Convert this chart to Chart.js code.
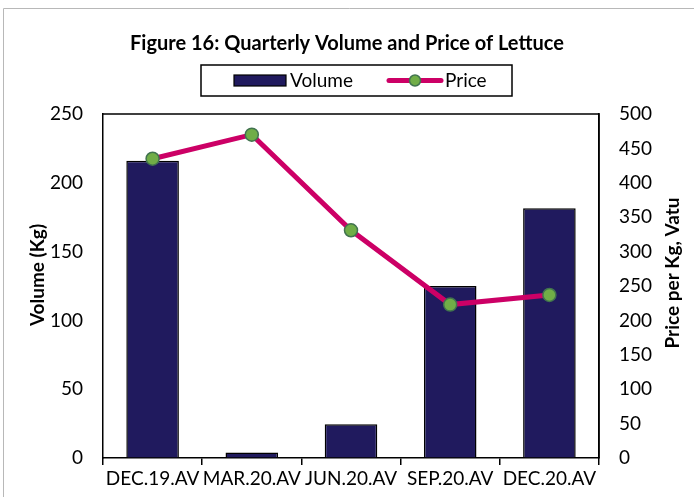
<!DOCTYPE html>
<html><head><meta charset="utf-8">
<script src="https://cdn.jsdelivr.net/npm/chart.js@4"></script>
<style>html,body{margin:0;padding:0;background:#fff}#wrap{width:694px;height:497px;position:relative}</style>
</head><body><div id="wrap"><canvas id="c" width="694" height="497"></canvas></div>
<script>
const categories = ["DEC.19.AV","MAR.20.AV","JUN.20.AV","SEP.20.AV","DEC.20.AV"];
const volumeValues = [216, 4, 24.5, 125, 181.5];
const priceValues = [435, 470, 331, 223, 237];
const volumeTicks = [0,50,100,150,200,250];
const priceTicks = [0,50,100,150,200,250,300,350,400,450,500];
const leftTitle = 'Volume (Kg)';
const rightTitle = 'Price per Kg, Vatu';

const FONT = "Lato, 'Open Sans', sans-serif";
const PLOT = {left:103, right:599, top:114, bottom:458};

const framePlugin = {
  id:'frame',
  beforeDraw(chart){
    const ctx = chart.ctx;
    ctx.save();
    ctx.strokeStyle = '#b8b8b8';
    ctx.lineWidth = 1;
    ctx.beginPath();
    ctx.moveTo(3.5, 500); ctx.lineTo(3.5, 8.5); ctx.lineTo(700, 8.5);
    ctx.stroke();
    ctx.restore();
  },
  afterDatasetsDraw(chart){
    const ctx = chart.ctx, a = chart.chartArea;
    ctx.save();
    ctx.strokeStyle = '#000';
    ctx.lineWidth = 1.5;
    ctx.beginPath();
    ctx.moveTo(a.left, a.top); ctx.lineTo(a.right, a.top); ctx.lineTo(a.right, a.bottom);
    ctx.stroke();
    ctx.restore();
  },
  afterDraw(chart){
    const ctx = chart.ctx;
    const ds = chart.data.datasets;
    const bar = ds.find(d => d.type === 'bar');
    const line = ds.find(d => d.type === 'line');
    ctx.save();
    // legend box
    ctx.strokeStyle = '#000'; ctx.lineWidth = 1.5;
    ctx.strokeRect(201, 65, 311, 31);
    const cy = 80.5;
    ctx.fillStyle = bar.backgroundColor; ctx.fillRect(234, 75, 52, 11);
    ctx.strokeStyle = '#000'; ctx.lineWidth = 1.2; ctx.strokeRect(234, 75, 52, 11);
    ctx.fillStyle = '#000'; ctx.font = '19px ' + FONT; ctx.textBaseline = 'middle'; ctx.textAlign='left';
    ctx.fillText(bar.label, 290, cy);
    ctx.strokeStyle = line.borderColor; ctx.lineWidth = 5; ctx.lineCap='round';
    ctx.beginPath(); ctx.moveTo(389, cy); ctx.lineTo(441, cy); ctx.stroke();
    ctx.fillStyle = line.pointBackgroundColor; ctx.strokeStyle = line.pointBorderColor; ctx.lineWidth = 1.5;
    ctx.beginPath(); ctx.arc(415, cy, 5.5, 0, Math.PI*2); ctx.fill(); ctx.stroke();
    ctx.fillStyle = '#000';
    ctx.fillText(line.label, 445, cy);
    // axis titles (both read bottom to top)
    ctx.font = 'bold 19px ' + FONT; ctx.textAlign = 'center'; ctx.textBaseline = 'middle';
    ctx.save(); ctx.translate(38, 275); ctx.rotate(-Math.PI/2); ctx.fillText(leftTitle, 0, 0); ctx.restore();
    ctx.save(); ctx.translate(673, 273); ctx.rotate(-Math.PI/2); ctx.fillText(rightTitle, 0, 0); ctx.restore();
    ctx.restore();
  }
};

new Chart(document.getElementById('c'), {
  data: {
    labels: categories,
    datasets: [
      {type:'line', label:'Price', data: priceValues, yAxisID:'y2', order:0,
       borderColor:'#CC0066', borderWidth:5, pointRadius:6.5, pointHoverRadius:6.5,
       pointBackgroundColor:'#70AD47', pointBorderColor:'#41734F', pointBorderWidth:1.5, tension:0},
      {type:'bar', label:'Volume', data: volumeValues, yAxisID:'y', order:1,
       backgroundColor:'#201A5E', borderColor:'#000', borderWidth:1.5,
       categoryPercentage:1, barPercentage:0.53}
    ]
  },
  options: {
    responsive:false, animation:false,
    layout:{padding:{top:0, right:0, bottom:0, left:0}},
    plugins:{
      legend:{display:false}, tooltip:{enabled:false},
      title:{display:true, text:'Figure 16: Quarterly Volume and Price of Lettuce',
        color:'#000', font:{family:FONT, size:20, weight:'bold'}, padding:{top:32, bottom:58}}
    },
    scales:{
      x:{
        offset:true,
        grid:{offset:true, drawOnChartArea:false, drawTicks:true, tickLength:7, color:'#000', lineWidth:1.5},
        border:{color:'#000', width:1.5},
        ticks:{color:'#000', font:{family:FONT, size:19}, maxRotation:0, autoSkip:false, padding:2},
        afterFit(s){ s.height = 497 - PLOT.bottom; }
      },
      y:{
        position:'left', min:0, max:250,
        afterBuildTicks(s){ s.ticks = volumeTicks.map(v=>({value:v})); },
        grid:{drawOnChartArea:false, drawTicks:false},
        border:{color:'#000', width:1.5},
        ticks:{color:'#000', font:{family:FONT, size:19}, padding:20},
        afterFit(s){ s.width = PLOT.left; }
      },
      y2:{
        position:'right', min:0, max:500,
        afterBuildTicks(s){ s.ticks = priceTicks.map(v=>({value:v})); },
        grid:{drawOnChartArea:false, drawTicks:false},
        border:{color:'#000', width:1.5},
        ticks:{color:'#000', font:{family:FONT, size:19}, padding:20},
        afterFit(s){ s.width = 694 - PLOT.right; }
      }
    }
  },
  plugins:[framePlugin]
});
</script></body></html>
